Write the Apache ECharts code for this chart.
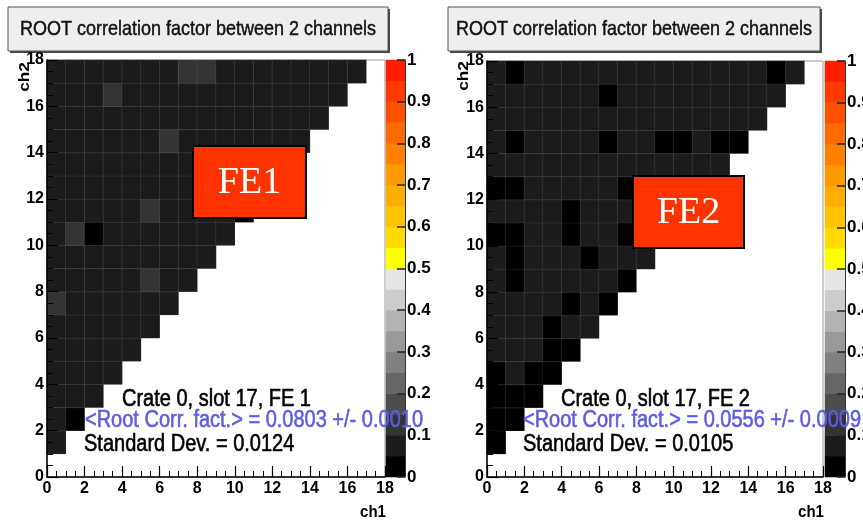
<!DOCTYPE html>
<html><head><meta charset="utf-8">
<script src="https://cdn.jsdelivr.net/npm/echarts@6/dist/echarts.min.js"></script>
<style>html,body{margin:0;padding:0;background:#fff}#c{width:863px;height:520px}</style>
</head><body><div id="c"></div>
<script>
// ---- data ----
const channels = [0,1,2,3,4,5,6,7,8,9,10,11,12,13,14,15,16,17];
const axisRange = [0, 18];
const axisStep = 2;
const paletteLevels = [0,0.05,0.1,0.15,0.2,0.25,0.3,0.35,0.4,0.45,0.5,0.55,0.6,0.65,0.7,0.75,0.8,0.85,0.9,0.95,1];
const paletteColors = ['#000000','#1b1b1b','#343434','#4d4d4d','#666666','#808080','#999999','#b3b3b3','#cccccc','#e6e6e6',
  '#ffff00','#ffd900','#ffc400','#ffad00','#ff9900','#ff8000','#ff6a00','#ff5000','#ff3a00','#ff1e00'];
const titleText = 'ROOT correlation factor between 2 channels';
// rows: ch2 = 1..17, entries ch1 = 0..ch2-1
const fe1Rows = [
  [0.08],
  [0.08,0.03],
  [0.08,0.08,0.08],
  [0.08,0.08,0.08,0.08],
  [0.08,0.08,0.08,0.08,0.08],
  [0.08,0.08,0.08,0.08,0.08,0.08],
  [0.12,0.08,0.08,0.08,0.08,0.08,0.08],
  [0.08,0.08,0.08,0.08,0.08,0.12,0.08,0.08],
  [0.08,0.08,0.08,0.08,0.08,0.08,0.08,0.08,0.08],
  [0.08,0.12,0.03,0.08,0.08,0.08,0.08,0.08,0.08,0.08],
  [0.08,0.08,0.08,0.08,0.08,0.12,0.08,0.08,0.08,0.08,0.03],
  [0.08,0.08,0.08,0.08,0.08,0.08,0.08,0.08,0.08,0.08,0.08,0.08],
  [0.08,0.08,0.08,0.08,0.08,0.08,0.08,0.08,0.08,0.08,0.08,0.08,0.08],
  [0.08,0.08,0.08,0.08,0.08,0.08,0.12,0.08,0.08,0.08,0.08,0.08,0.08,0.08],
  [0.08,0.08,0.08,0.08,0.08,0.08,0.08,0.08,0.08,0.08,0.08,0.08,0.08,0.08,0.08],
  [0.08,0.08,0.08,0.12,0.08,0.08,0.08,0.08,0.08,0.08,0.08,0.08,0.08,0.08,0.08,0.08],
  [0.08,0.08,0.08,0.08,0.08,0.08,0.08,0.12,0.12,0.08,0.08,0.08,0.08,0.08,0.08,0.08,0.08]
];
const fe2Rows = [
  [0.03],
  [0.03,0.03],
  [0.03,0.03,0.03],
  [0.03,0.06,0.03,0.03],
  [0.06,0.06,0.06,0.03,0.03],
  [0.06,0.06,0.06,0.03,0.06,0.06],
  [0.06,0.06,0.06,0.06,0.03,0.06,0.03],
  [0.06,0.03,0.06,0.06,0.06,0.06,0.06,0.03],
  [0.06,0.03,0.06,0.06,0.06,0.03,0.06,0.06,0.06],
  [0.03,0.03,0.06,0.06,0.03,0.06,0.06,0.03,0.06,0.06],
  [0.06,0.06,0.06,0.06,0.03,0.06,0.06,0.06,0.06,0.06,0.06],
  [0.03,0.03,0.06,0.06,0.06,0.06,0.06,0.03,0.06,0.06,0.06,0.06],
  [0.06,0.06,0.06,0.06,0.06,0.06,0.06,0.06,0.06,0.06,0.06,0.06,0.06],
  [0.06,0.03,0.06,0.06,0.06,0.06,0.03,0.06,0.06,0.03,0.03,0.06,0.03,0.03],
  [0.06,0.06,0.06,0.06,0.06,0.06,0.06,0.06,0.06,0.06,0.06,0.06,0.06,0.06,0.06],
  [0.06,0.06,0.06,0.06,0.06,0.06,0.03,0.06,0.06,0.06,0.06,0.06,0.06,0.06,0.06,0.06],
  [0.06,0.03,0.06,0.06,0.06,0.06,0.06,0.06,0.06,0.06,0.06,0.06,0.06,0.06,0.06,0.03,0.06]
];
const fe1Stats = ['Crate 0, slot 17, FE 1', '<Root Corr. fact.> = 0.0803 +/- 0.0010', 'Standard Dev. = 0.0124'];
const fe2Stats = ['Crate 0, slot 17, FE 2', '<Root Corr. fact.> = 0.0556 +/- 0.0009', 'Standard Dev. = 0.0105'];

// ---- build ----
function toCells(rows){ const out=[]; rows.forEach((row,r)=>row.forEach((v,i)=>out.push([i, r+1, v]))); return out; }
const barCells = paletteColors.map((c,k)=>[0, k, (paletteLevels[k]+paletteLevels[k+1])/2]);
const pieces = paletteColors.map((c,k)=>({gte: paletteLevels[k], lt: paletteLevels[k+1] + (k===paletteColors.length-1?1e-9:0), color: c}));
const cats = channels.map(String);
const barCats = paletteColors.map((c,k)=>String(k));
const FONT = '"Liberation Sans", Arial, Helvetica, sans-serif';
const lbl = {color:'#000', fontWeight:'bold', fontSize:16, fontFamily:FONT};

function hiddenCat(g, data, pos){ return {type:'category', gridIndex:g, data:data, show:false, position:pos}; }
function valX(g){ return {type:'value', gridIndex:g, min:axisRange[0], max:axisRange[1], interval:axisStep, position:'bottom', z:5,
  axisLine:{show:true, onZero:false, lineStyle:{color:'#000', width:1.5}},
  axisTick:{show:true, inside:true, length:11, lineStyle:{color:'#000', width:1.2}},
  minorTick:{show:true, splitNumber:4, length:6, lineStyle:{color:'#000', width:1}},
  splitLine:{show:false}, axisLabel:Object.assign({margin:4}, lbl)}; }
function valY(g){ return {type:'value', gridIndex:g, min:axisRange[0], max:axisRange[1], interval:axisStep, position:'left', z:5,
  axisLine:{show:true, onZero:false, lineStyle:{color:'#000', width:1.5}},
  axisTick:{show:true, inside:true, length:11, lineStyle:{color:'#000', width:1.2}},
  minorTick:{show:true, splitNumber:4, length:6, lineStyle:{color:'#000', width:1}},
  splitLine:{show:false}, axisLabel:Object.assign({margin:3}, lbl)}; }
function barY(g){ return {type:'value', gridIndex:g, min:0, max:1, interval:0.1, position:'right', z:5,
  axisLine:{show:true, lineStyle:{color:'#333', width:1}},
  axisTick:{show:true, inside:true, length:8, lineStyle:{color:'#222', width:1.5}},
  splitLine:{show:false}, axisLabel:Object.assign({margin:2}, lbl, {fontSize:17})}; }

function heat(xi, yi, data, border){ return {type:'heatmap', xAxisIndex:xi, yAxisIndex:yi, data:data, silent:true,
  itemStyle: border ? {borderColor:'rgba(255,255,255,0.09)', borderWidth:1} : {}, emphasis:{disabled:true}}; }

function titleBox(x, w){ return [
  {type:'rect', shape:{x:x+2, y:9, width:w, height:44}, style:{fill:'#444'}},
  {type:'rect', shape:{x:x, y:7, width:w, height:44}, style:{fill:'#eeeeee', stroke:'#555', lineWidth:1}},
  {type:'text', x:x+w/2, y:30, scaleY:1.1, style:{text:titleText, font:'18px '+FONT, fill:'#111', stroke:'#111', lineWidth:0.4, align:'center', verticalAlign:'middle', textAlign:'center', textVerticalAlign:'middle'}}
]; }
function feBox(x, y, w, h, t){ return [
  {type:'rect', z:50, shape:{x:x, y:y, width:w, height:h}, style:{fill:'#ff3300', stroke:'#000', lineWidth:2}},
  {type:'text', z:51, x:x+w/2, y:y+h/2+1, style:{text:t, font:'38px "Liberation Serif", "Times New Roman", serif', fill:'#fff', align:'center', verticalAlign:'middle', textAlign:'center', textVerticalAlign:'middle'}}
]; }
function txt(x, y, t, color){ return {type:'text', z:60, x:x, y:y, scaleY:1.15, style:{text:t, font:'20px '+FONT, fill:color, stroke:color, lineWidth:0.5, align:'left', verticalAlign:'middle', textAlign:'left', textVerticalAlign:'middle'}}; }
function axName(x, y, t, rot){ return {type:'text', z:60, x:x, y:y, rotation:rot, scaleX: rot? 1.15:1, scaleY: rot?1:1.15, style:{text:t, font:'bold 15px '+FONT, fill:'#000', align:'center', verticalAlign:'middle', textAlign:'center', textVerticalAlign:'middle'}}; }

const gridBase = {outerBoundsMode:'none', containLabel:false};
const option = {
  animation:false,
  backgroundColor:'#fff',
  grid:[
    Object.assign({left:47, top:60, width:338, height:417, show:true, borderColor:'#999', borderWidth:1, backgroundColor:'#fff'}, gridBase),
    Object.assign({left:386, top:60, width:19, height:417}, gridBase),
    Object.assign({left:487, top:61, width:336, height:416, show:true, borderColor:'#999', borderWidth:1, backgroundColor:'#fff'}, gridBase),
    Object.assign({left:825, top:61, width:20, height:416}, gridBase)
  ],
  xAxis:[ hiddenCat(0, cats, 'top'), valX(0), hiddenCat(1, ['c'], 'bottom'), hiddenCat(2, cats, 'top'), valX(2), hiddenCat(3, ['c'], 'bottom') ],
  yAxis:[ hiddenCat(0, cats, 'right'), valY(0), hiddenCat(1, barCats, 'left'), barY(1), hiddenCat(2, cats, 'right'), valY(2), hiddenCat(3, barCats, 'left'), barY(3) ],
  visualMap:{type:'piecewise', show:false, dimension:2, seriesIndex:[0,1,2,3], pieces:pieces},
  series:[ heat(0,0,toCells(fe1Rows),true), heat(2,2,barCells,false), heat(3,4,toCells(fe2Rows),true), heat(5,6,barCells,false) ],
  graphic:[].concat(
    titleBox(8, 380), titleBox(448, 372),
    feBox(193, 146, 113, 72, 'FE1'), feBox(633, 176, 111, 72, 'FE2'),
    [txt(122, 400, fe1Stats[0], '#000'), txt(85, 421, fe1Stats[1], '#5c5ce6'), txt(84, 445, fe1Stats[2], '#000'),
     txt(561, 400, fe2Stats[0], '#000'), txt(523, 421, fe2Stats[1], '#5c5ce6'), txt(523, 445, fe2Stats[2], '#000'),
     axName(25, 77, 'ch2', Math.PI/2), axName(373, 512, 'ch1', 0),
     axName(464, 76, 'ch2', Math.PI/2), axName(811, 512, 'ch1', 0)]
  )
};
const chart = echarts.init(document.getElementById('c'), null, {renderer:'canvas'});
chart.setOption(option);
</script></body></html>
